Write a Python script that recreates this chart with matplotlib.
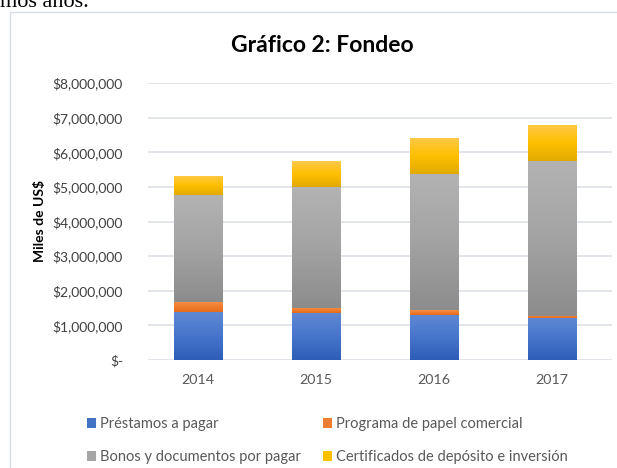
import numpy as np
import matplotlib
matplotlib.use("Agg")
import matplotlib.pyplot as plt
from matplotlib.colors import LinearSegmentedColormap
from matplotlib.patches import Patch
from matplotlib.lines import Line2D
from matplotlib.ticker import FuncFormatter

# Data (miles de US$)
years = ["2014", "2015", "2016", "2017"]
prestamos = [1390000, 1360000, 1310000, 1220000]
programa = [290000, 150000, 135000, 60000]
bonos = [3090000, 3490000, 3935000, 4470000]
certificados = [550000, 750000, 1040000, 1040000]

series_names = ["Préstamos a pagar", "Programa de papel comercial",
                "Bonos y documentos por pagar", "Certificados de depósito e inversión"]
# gradient stops: bottom -> top
gradients = [
    ["#2d5db6", "#4775cc", "#6089d3"],
    ["#e56c1c", "#f07c2c", "#f6924a"],
    ["#8c8c8c", "#a3a3a3", "#b3b3b3"],
    ["#e2aa00", "#ffc000", "#fec94c"],
]
solid = ["#4472c4", "#ed7d31", "#a5a5a5", "#ffc000"]

plt.rcParams['font.family'] = ['Lato', 'DejaVu Sans']

fig = plt.figure(figsize=(6.17, 4.68), dpi=100)
ax = fig.add_axes([148 / 617, 1 - 360 / 468, 464 / 617, 277 / 468])

x = np.arange(len(years))
bottom = np.zeros(len(years))
grad = np.linspace(0, 1, 128).reshape(-1, 1)
for vals, stops in zip([prestamos, programa, bonos, certificados], gradients):
    bars = ax.bar(x, vals, width=0.41, bottom=bottom, color="none", zorder=2)
    cmap = LinearSegmentedColormap.from_list("g", stops)
    for b in bars:
        bx, by, bw, bh = b.get_x(), b.get_y(), b.get_width(), b.get_height()
        im = ax.imshow(grad, cmap=cmap, extent=[bx, bx + bw, by, by + bh],
                       origin="lower", aspect="auto", zorder=2.5)
        im.set_clip_path(b)
    bottom += np.array(vals)

ax.set_xlim(-50 / 118, (612 - 198) / 118)
ax.set_ylim(0, 8000000)
ax.set_yticks(np.arange(0, 8000001, 1000000))
ax.yaxis.set_major_formatter(FuncFormatter(lambda v, p: "$-" if v == 0 else f"${v:,.0f}"))
ax.set_xticks(x)
ax.set_xticklabels(years)
ax.grid(axis="y", color="#dde1e8", linewidth=1.2, zorder=0)
ax.set_axisbelow(True)
for s in ax.spines.values():
    s.set_visible(False)
ax.tick_params(axis="y", length=0, pad=18, labelsize=10, labelcolor="#404040")
ax.tick_params(axis="x", length=0, pad=10, labelsize=10.3, labelcolor="#595959")
ax.set_ylabel("Miles de US$", fontsize=10, fontweight="bold", labelpad=5)

fig.text(322 / 617, 1 - 45 / 468, "Gráfico 2: Fondeo", ha="center", va="center",
         fontsize=16.5, fontweight="bold")

# chart frame and document text above
fig.add_artist(Line2D([10 / 617, 10 / 617], [0, 1 - 12 / 468], color="#d6dce5", lw=1))
fig.add_artist(Line2D([10 / 617, 1], [1 - 12 / 468, 1 - 12 / 468], color="#d6dce5", lw=1))
fig.text(0, 1 - 7 / 468, "mos años.", ha="left", va="baseline", fontsize=16,
         family="Liberation Serif")

handles = [Patch(facecolor=solid[i], label=series_names[i]) for i in [0, 2, 1, 3]]
fig.legend(handles=handles, ncol=2, loc="upper left",
           bbox_to_anchor=(74 / 617, 1 - 404 / 468), frameon=False,
           fontsize=10.5, handlelength=0.6, handleheight=0.6, handletextpad=0.3,
           columnspacing=1.5, labelspacing=1.3, labelcolor="#595959")

fig.savefig("out.png", dpi=100)
